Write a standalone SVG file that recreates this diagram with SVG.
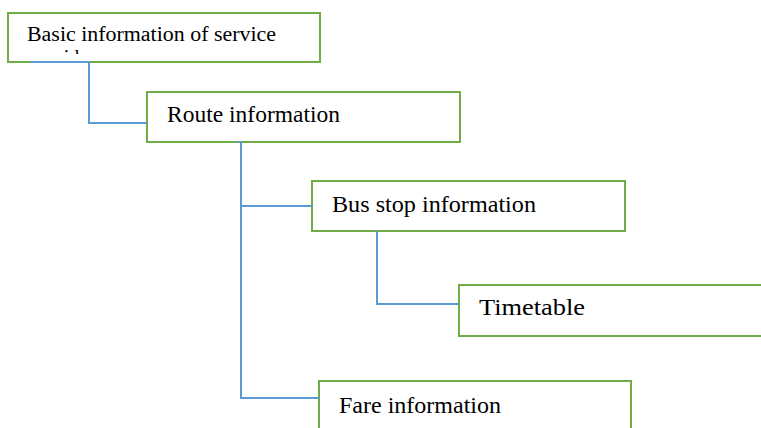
<svg xmlns="http://www.w3.org/2000/svg" width="761" height="428" viewBox="0 0 761 428">
<style>
.box{fill:#fff;stroke:#70AD47;stroke-width:2}
.lbl{font-family:"Liberation Serif","Times New Roman",serif;fill:#000}
.conn{fill:none;stroke:#5B9BD5;stroke-width:2}
</style>
<defs>
<clipPath id="clip1"><rect x="8" y="44" width="312" height="10"/></clipPath>
</defs>
<rect width="761" height="428" fill="#fff"/>
<g id="node-basic">
<rect class="box" x="8" y="13" width="312" height="49"/>
<text class="lbl" x="27" y="41" font-size="20" textLength="249" lengthAdjust="spacingAndGlyphs">Basic information of service</text>
<text class="lbl" x="27" y="64" font-size="20" clip-path="url(#clip1)">provider</text>
</g>
<g id="node-route">
<rect class="box" x="147" y="92" width="313" height="50"/>
<text class="lbl" x="167" y="122" font-size="23" textLength="173" lengthAdjust="spacingAndGlyphs">Route information</text>
</g>
<g id="node-busstop">
<rect class="box" x="312" y="181" width="313" height="50"/>
<text class="lbl" x="332" y="211.5" font-size="24" textLength="204" lengthAdjust="spacingAndGlyphs">Bus stop information</text>
</g>
<g id="node-timetable">
<rect class="box" x="459" y="285" width="320" height="51"/>
<text class="lbl" x="479" y="315" font-size="24" textLength="106" lengthAdjust="spacingAndGlyphs">Timetable</text>
</g>
<g id="node-fare">
<rect class="box" x="319" y="381" width="312" height="60"/>
<text class="lbl" x="339" y="412.5" font-size="24" textLength="162" lengthAdjust="spacingAndGlyphs">Fare information</text>
</g>
<g id="connectors">
<path class="conn" d="M30,62 H89 V123 H147"/>
<path class="conn" d="M237,142 H241 V398 H319"/>
<path class="conn" d="M241,206 H312"/>
<path class="conn" d="M377,231 V304 H459"/>
</g>
</svg>
